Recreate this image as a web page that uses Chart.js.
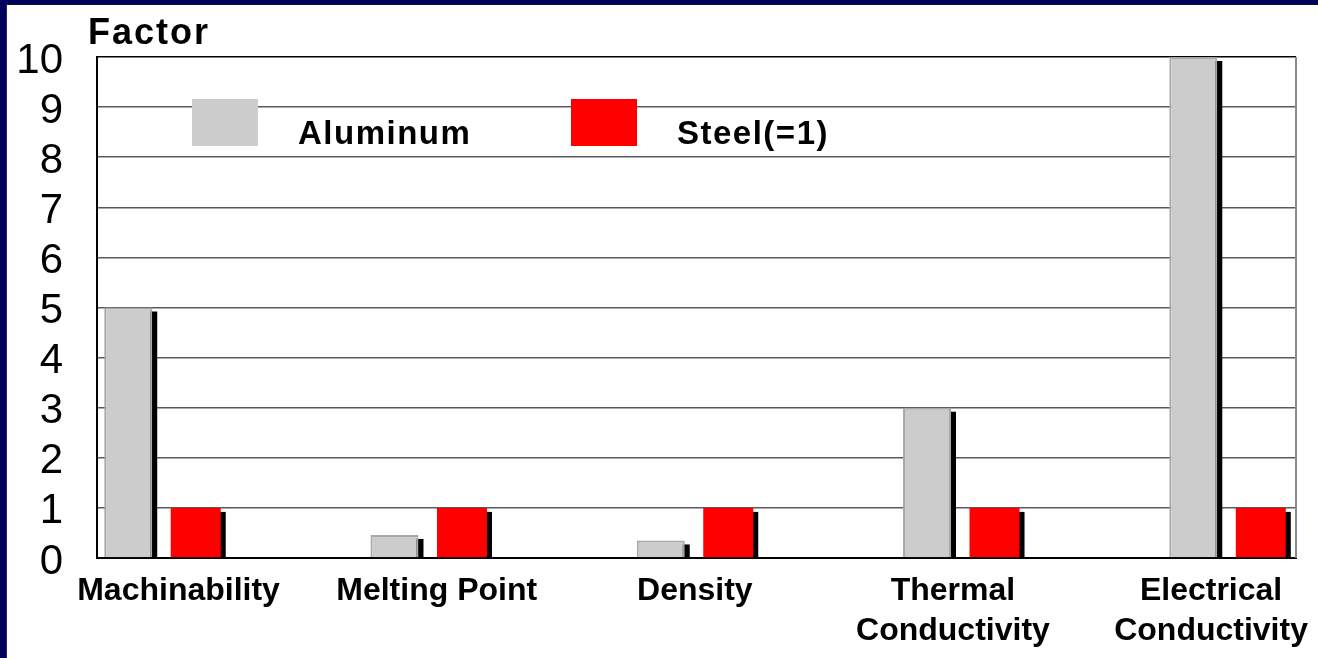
<!DOCTYPE html>
<html>
<head>
<meta charset="utf-8">
<title>Aluminum vs Steel</title>
<script src="https://cdn.jsdelivr.net/npm/chart.js@4.4.1/dist/chart.umd.min.js"></script>
<style>
    html, body { margin: 0; padding: 0; }
    body { width: 1318px; height: 658px; background: #00005e; overflow: hidden; position: relative; }
    .slide { position: absolute; left: 6px; top: 4px; width: 1311px; height: 653px; background: #fff;
             border-left: 1px solid #2b2b40; border-top: 1px solid #111; }
    canvas { display: block; }
</style>
</head>
<body>
<div class="slide"><canvas id="factorChart" width="1311" height="653"></canvas></div>
<script>
const categories = ['Machinability', 'Melting Point', 'Density', ['Thermal', 'Conductivity'], ['Electrical', 'Conductivity']];
const aluminumValues = [5, 0.46, 0.35, 3, 10];
const steelValues = [1, 1, 1, 1, 1];
const factorTicks = [0, 1, 2, 3, 4, 5, 6, 7, 8, 9, 10];
const seriesNames = ['Aluminum', 'Steel(=1)'];
const axisTitle = 'Factor';

const FONT = '"Liberation Sans", Arial, Helvetica, sans-serif';
const toPoints = vals => vals.map((v, i) => ({ x: i, y: v }));
const categoryTicks = scale => { scale.ticks = categories.map((_, i) => ({ value: i })); };

// black drop shadow behind every bar, offset right/down like the old office charts
const barShadow = {
    id: 'barShadow',
    beforeDatasetsDraw(chart) {
        const { ctx, chartArea: a } = chart;
        ctx.save();
        ctx.beginPath();
        ctx.rect(a.left, a.top, a.right - a.left, a.bottom - a.top);
        ctx.clip();
        ctx.fillStyle = '#000';
        chart.data.datasets.forEach((ds, di) => {
            chart.getDatasetMeta(di).data.forEach(bar => {
                const { x, y, base, width } = bar.getProps(['x', 'y', 'base', 'width'], true);
                ctx.fillRect(x - width / 2 + 5, y + 4, width, base - y);
            });
        });
        ctx.restore();
    }
};

// right frame edge, "Factor" heading and the legend sitting inside the plot
const slideDecor = {
    id: 'slideDecor',
    afterDraw(chart) {
        const { ctx, chartArea: a } = chart;
        ctx.save();
        ctx.strokeStyle = '#8a8a8a';
        ctx.lineWidth = 2;
        ctx.beginPath();
        ctx.moveTo(a.right, a.top);
        ctx.lineTo(a.right, a.bottom);
        ctx.stroke();

        ctx.fillStyle = '#000';
        ctx.textBaseline = 'alphabetic';
        ctx.textAlign = 'left';
        ctx.font = `bold 36px ${FONT}`;
        ctx.letterSpacing = '2px';
        ctx.fillText(axisTitle, a.left - 9, a.top - 13);

        ctx.font = `bold 33px ${FONT}`;
        ctx.letterSpacing = '1.5px';
        chart.data.datasets.forEach((ds, i) => {
            const left = a.left + 95 + i * 379;
            ctx.fillStyle = ds.backgroundColor;
            ctx.fillRect(left, a.top + 42, 66, 47);
            ctx.fillStyle = '#000';
            ctx.fillText(ds.label, left + 106, a.top + 87);
        });
        ctx.restore();
    }
};

new Chart(document.getElementById('factorChart'), {
    type: 'bar',
    data: {
        datasets: [{
            label: seriesNames[0],
            data: toPoints(aluminumValues),
            backgroundColor: '#cccccc',
            borderColor: '#a8a8a8',
            borderWidth: 2,
            barPercentage: 0.711
        }, {
            label: seriesNames[1],
            data: toPoints(steelValues),
            backgroundColor: '#ff0000',
            borderWidth: 0,
            barPercentage: 0.741
        }]
    },
    options: {
        responsive: false,
        animation: false,
        devicePixelRatio: 1,
        layout: { padding: { top: 52, right: 22, left: 0, bottom: 0 } },
        datasets: { bar: { categoryPercentage: 0.507 } },
        plugins: {
            legend: { display: false },
            tooltip: { enabled: false },
            title: { display: false }
        },
        scales: {
            x: {
                type: 'linear',
                display: false,
                offset: false,
                min: -0.244,
                max: 4.259,
                afterBuildTicks: categoryTicks
            },
            xl: {
                type: 'linear',
                position: 'bottom',
                offset: false,
                min: -0.316,
                max: 4.329,
                afterBuildTicks: categoryTicks,
                afterFit: s => { s.height = 100; s.paddingLeft = 0; s.paddingRight = 0; },
                grid: { display: false, offset: false },
                border: { display: true, color: '#000', width: 2 },
                ticks: {
                    autoSkip: false,
                    maxRotation: 0,
                    padding: 5,
                    color: '#000',
                    font: { family: FONT, size: 32, weight: 'bold', lineHeight: 1.25 },
                    callback: v => categories[v]
                }
            },
            y: {
                min: 0,
                max: 10,
                afterBuildTicks: s => { s.ticks = factorTicks.map(v => ({ value: v })); },
                afterFit: s => { s.width = 90; s.paddingTop = 0; s.paddingBottom = 0; },
                grid: {
                    color: c => (c.tick && (c.tick.value === 0 || c.tick.value === 10)) ? '#000' : '#5a5a5a',
                    lineWidth: 1.5,
                    drawTicks: false
                },
                border: { color: '#000', width: 2 },
                ticks: {
                    autoSkip: false,
                    color: '#000',
                    padding: 34,
                    labelOffset: 4,
                    font: { family: FONT, size: 42 }
                }
            }
        }
    },
    plugins: [barShadow, slideDecor]
});
</script>
</body>
</html>
